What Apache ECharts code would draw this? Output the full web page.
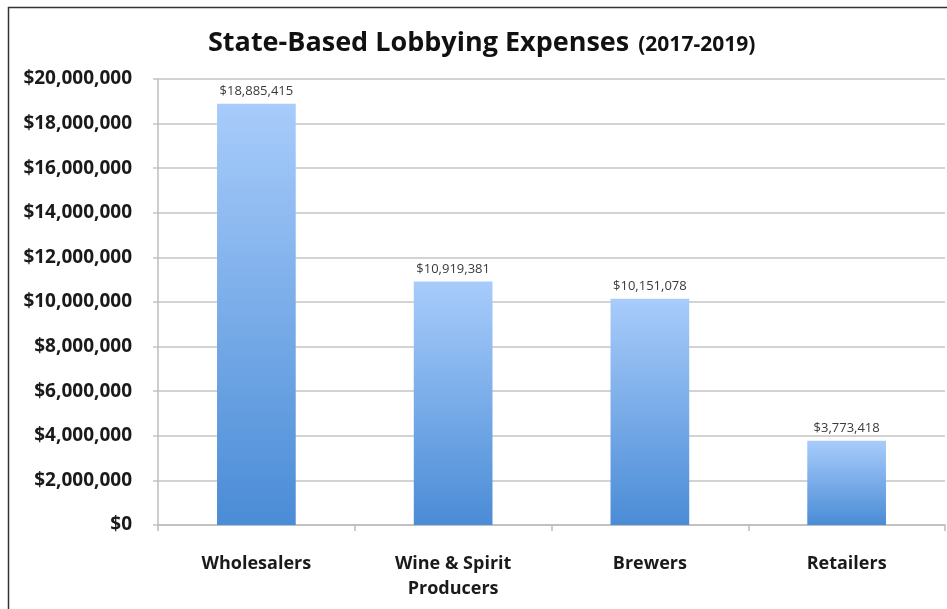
<!DOCTYPE html>
<html>
<head>
<meta charset="utf-8">
<script src="https://cdn.jsdelivr.net/npm/echarts@6/dist/echarts.min.js"></script>
<style>
  html, body { margin: 0; padding: 0; background: #fff; }
  #chart { width: 947px; height: 609px; }
</style>
</head>
<body>
<div id="chart"></div>
<script>
// Lobbying spend by industry tier, 2017-2019
const categories = ['Wholesalers', 'Wine & Spirit\nProducers', 'Brewers', 'Retailers'];
const expenses = [18885415, 10919381, 10151078, 3773418];
const yTicks = { min: 0, max: 20000000, step: 2000000 };

const FONT = '"Open Sans", Lato, sans-serif';
const money = v => '$' + Math.round(v).toLocaleString('en-US');

const chart = echarts.init(document.getElementById('chart'), null, { renderer: 'canvas' });

chart.setOption({
  backgroundColor: '#ffffff',
  animation: false,
  title: {
    text: '{a|State-Based Lobbying Expenses} {b|(2017-2019)}',
    left: 203,
    top: 25,
    textStyle: {
      rich: {
        a: { fontFamily: FONT, fontWeight: 'bold', fontSize: 27, color: '#111' },
        b: { fontFamily: FONT, fontWeight: 'bold', fontSize: 21, color: '#111', padding: [4, 0, 0, 4] }
      }
    }
  },
  graphic: [{
    type: 'rect',
    shape: { x: 8.5, y: 7.5, width: 960, height: 620 },
    style: { fill: 'none', stroke: '#333', lineWidth: 1.5 },
    silent: true
  }],
  grid: { left: 158, right: 2, top: 79, bottom: 84, containLabel: false },
  xAxis: {
    type: 'category',
    data: categories,
    boundaryGap: true,
    axisLine: { lineStyle: { color: '#bcbcbc', width: 1.5 } },
    axisTick: { show: true, length: 6, lineStyle: { color: '#bcbcbc', width: 1.5 } },
    axisLabel: {
      fontFamily: FONT, fontWeight: 'bold', fontSize: 18, color: '#1a1a1a',
      margin: 26, lineHeight: 25, interval: 0
    }
  },
  yAxis: {
    type: 'value',
    min: yTicks.min,
    max: yTicks.max,
    interval: yTicks.step,
    axisLine: { show: true, lineStyle: { color: '#bcbcbc', width: 1.5 } },
    axisTick: { show: true, length: 5, lineStyle: { color: '#c4c4c4', width: 1.5 } },
    splitLine: { lineStyle: { color: '#c4c4c4', width: 1.5 } },
    axisLabel: {
      fontFamily: FONT, fontWeight: 'bold', fontSize: 19, color: '#1a1a1a',
      margin: 26, formatter: money
    }
  },
  series: [{
    type: 'bar',
    data: expenses,
    barWidth: '40%',
    itemStyle: {
      color: new echarts.graphic.LinearGradient(0, 0, 0, 1, [
        { offset: 0, color: '#a8ccfb' },
        { offset: 1, color: '#4a8cd6' }
      ])
    },
    label: {
      show: true,
      position: 'top',
      distance: 6,
      fontFamily: FONT,
      fontSize: 13,
      color: '#3a3a3a',
      formatter: p => money(p.value)
    }
  }]
});
</script>
</body>
</html>
